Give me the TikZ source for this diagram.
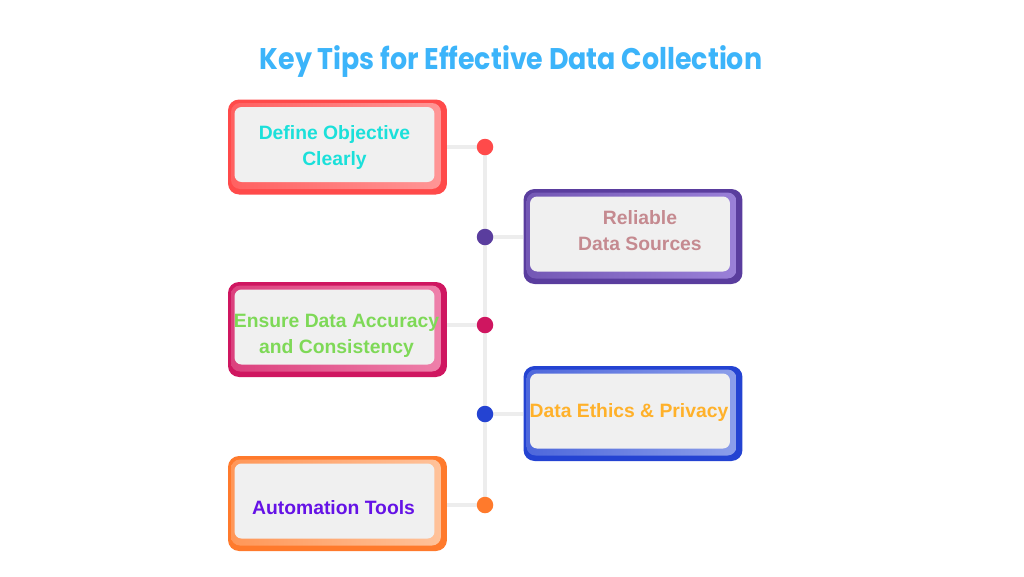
\documentclass[tikz,border=0pt]{standalone}
\usepackage{fontspec}
\setmainfont{Liberation Sans}
\newfontfamily\titlefont{Poppins}
\usetikzlibrary{positioning}

\definecolor{titleblue}{HTML}{3CB4FA}
\definecolor{cardgray}{HTML}{F0F0F0}
\definecolor{spinegray}{HTML}{EDEDED}
% frame colours, dark edge and light band
\definecolor{redD}{HTML}{FF4A4A}    \definecolor{redL}{HTML}{FF9696}
\definecolor{purpleD}{HTML}{5A3D9E} \definecolor{purpleL}{HTML}{9A80D8}
\definecolor{pinkD}{HTML}{CF1660}   \definecolor{pinkL}{HTML}{EE80AA}
\definecolor{blueD}{HTML}{2443D2}   \definecolor{blueL}{HTML}{8C9EEA}
\definecolor{orangeD}{HTML}{FF7A2C} \definecolor{orangeL}{HTML}{FFC29A}
% label colours
\definecolor{cyanT}{HTML}{1BE0DA}
\definecolor{roseT}{HTML}{C58A90}
\definecolor{greenT}{HTML}{7ED957}
\definecolor{amberT}{HTML}{FFB12A}
\definecolor{violetT}{HTML}{6512E6}

\begin{document}
\begin{tikzpicture}[x=0.02cm,y=-0.02cm,
    frame/.style={rounded corners=0.22cm,minimum width=4.38cm,minimum height=1.9cm,inner sep=0pt},
    band/.style={rounded corners=0.18cm,minimum width=4.2cm,minimum height=1.72cm,inner sep=0pt},
    card/.style={fill=cardgray,rounded corners=0.14cm,minimum width=4cm,minimum height=1.5cm,inner sep=0pt},
    tip/.style={align=center,inner sep=0pt,font=\bfseries\fontsize{11}{14.7}\selectfont},
    spine/.style={draw=spinegray,line width=2.8pt},
    dot/.style={circle,fill=#1,minimum size=0.33cm,inner sep=0pt}]

    \useasboundingbox (0,0) rectangle (1024,576);

    \node [text=titleblue,font=\titlefont\bfseries\fontsize{17}{20}\selectfont] (title) at (511,62)
        {\scalebox{0.9}[1]{Key Tips for Effective Data Collection}};

    % spine and branch points
    \coordinate (d1) at (485,147);
    \coordinate (d2) at (485,237);
    \coordinate (d3) at (485,325);
    \coordinate (d4) at (485,414);
    \coordinate (d5) at (485,505);
    \draw[spine] (d1) -- (d5);

    % left column
    \node [frame,fill=redD] (f1) at (337.5,147) {};
    \node [band,left color=redD!70!redL,right color=redL] (b1) at (336,146) {};
    \node [card] (c1) at (334.5,144.5) {};
    \node [tip,text=cyanT] (t1) at (334.5,147.5) {Define Objective\\Clearly};

    \node [frame,fill=pinkD] (f3) at (337.5,329.5) {};
    \node [band,left color=pinkD!60!pinkL,right color=pinkL] (b3) at (336,328.5) {};
    \node [card] (c3) at (334.5,327) {};
    \node [tip,text=greenT] (t3) at (336.5,335.5) {Ensure Data Accuracy\\and Consistency};

    \node [frame,fill=orangeD] (f5) at (337.5,503.5) {};
    \node [band,left color=orangeD!60!orangeL,right color=orangeL] (b5) at (336,502.5) {};
    \node [card] (c5) at (334.5,501) {};
    \node [tip,text=violetT] (t5) at (333.5,508) {Automation Tools};

    % right column
    \node [frame,fill=purpleD] (f2) at (633,236.5) {};
    \node [band,left color=purpleD!60!purpleL,right color=purpleL] (b2) at (631.5,235.5) {};
    \node [card] (c2) at (630,234) {};
    \node [tip,text=roseT] (t2) at (640,230.5) {Reliable\\Data Sources};

    \node [frame,fill=blueD] (f4) at (633,413.5) {};
    \node [band,left color=blueD!60!blueL,right color=blueL] (b4) at (631.5,412.5) {};
    \node [card] (c4) at (630,411) {};
    \node [tip,text=amberT] (t4) at (629,412) {Data Ethics \& Privacy};

    % branches
    \draw[spine] (f1.east |- d1) -- (d1);
    \draw[spine] (d2) -- (f2.west |- d2);
    \draw[spine] (f3.east |- d3) -- (d3);
    \draw[spine] (d4) -- (f4.west |- d4);
    \draw[spine] (f5.east |- d5) -- (d5);

    \node [dot=redD] (p1) at (d1) {};
    \node [dot=purpleD] (p2) at (d2) {};
    \node [dot=pinkD] (p3) at (d3) {};
    \node [dot=blueD] (p4) at (d4) {};
    \node [dot=orangeD] (p5) at (d5) {};

\end{tikzpicture}
\end{document}
